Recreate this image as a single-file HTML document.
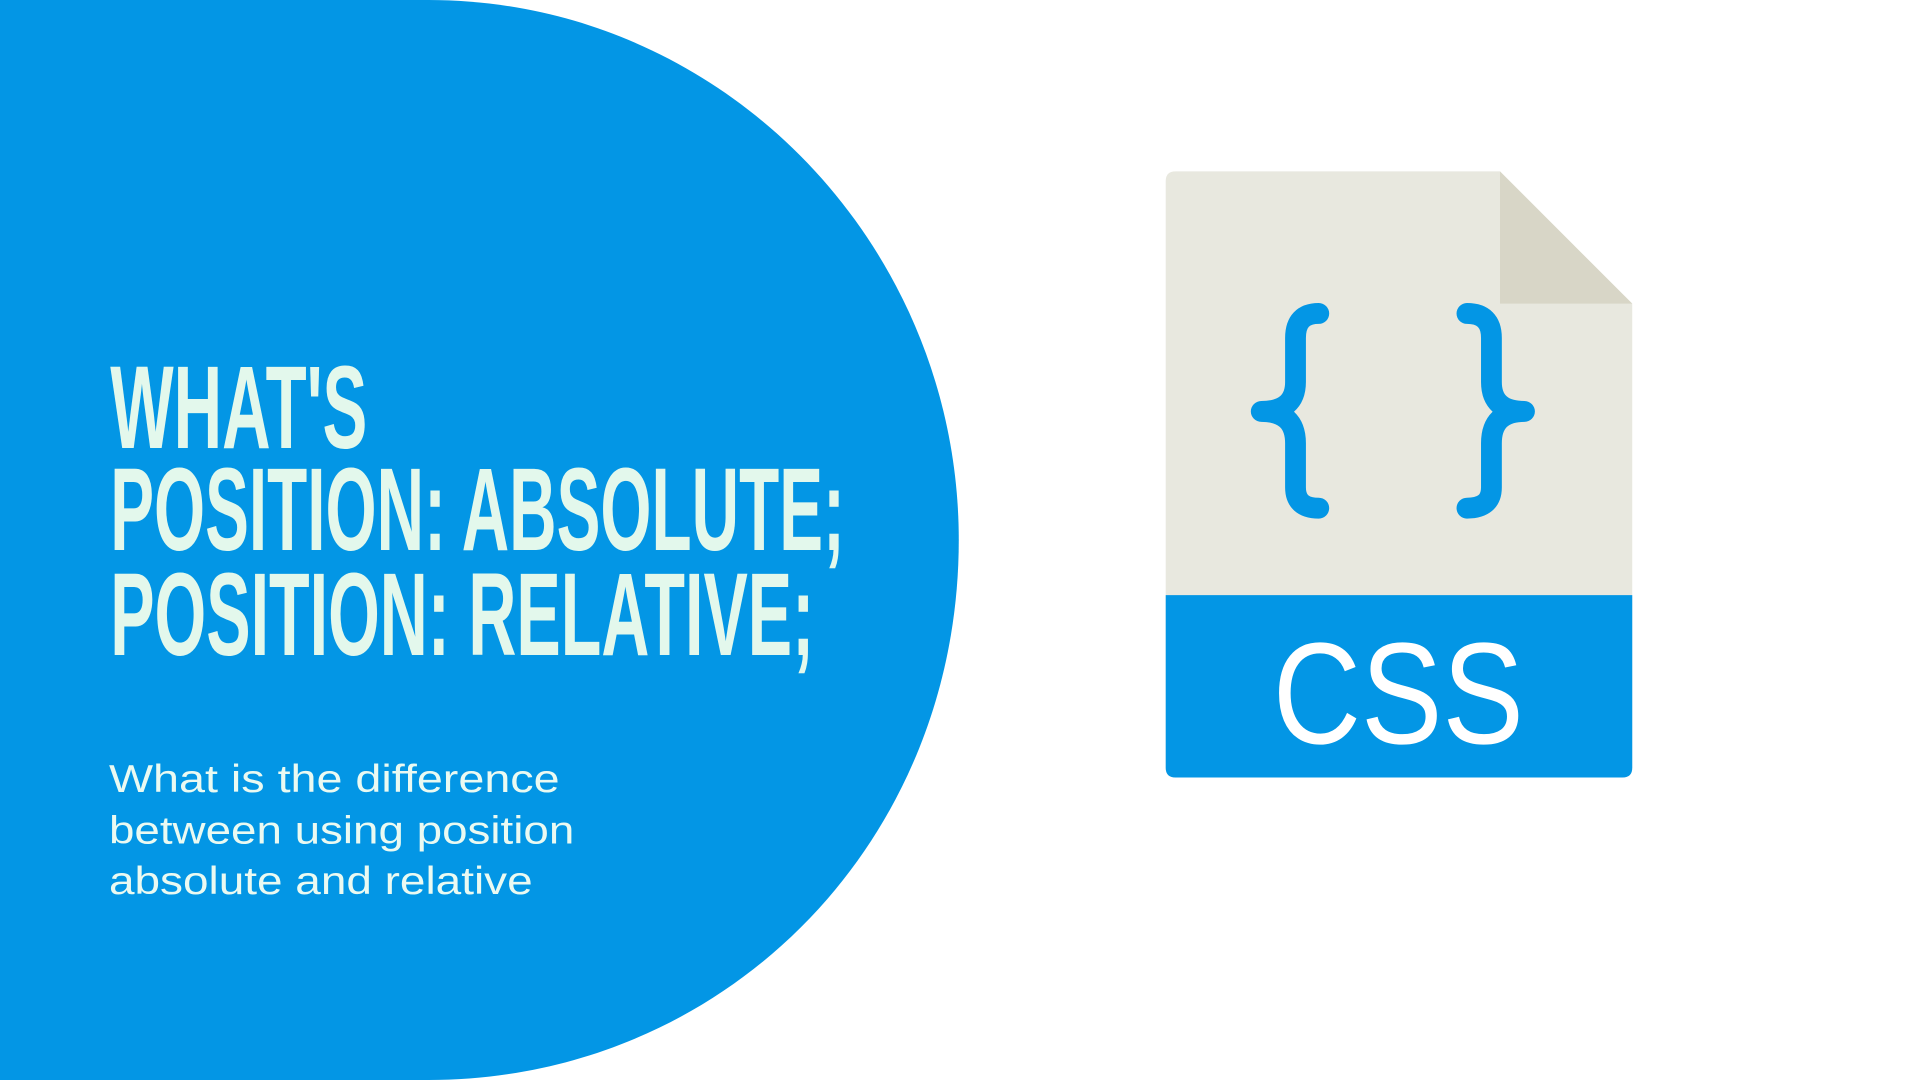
<!DOCTYPE html>
<html><head><meta charset="utf-8"><style>html,body{margin:0;padding:0;background:#fff;}svg{display:block}</style></head>
<body>
<svg width="1920" height="1080" viewBox="0 0 1568 882" preserveAspectRatio="none" xmlns="http://www.w3.org/2000/svg">
<rect width="1568" height="882" fill="#fff"/>
<path d="M0 0 H350 C590 0 783 200 783 441 C783 690 590 882 350 882 H0 Z" fill="#0396e5"/>
<g font-family="'Liberation Sans Narrow','Liberation Sans',sans-serif" font-weight="bold" font-size="96" fill="#e3f8ec">
<text x="90" y="366" textLength="210" lengthAdjust="spacingAndGlyphs">WHAT'S</text>
<text x="90" y="449" textLength="600" lengthAdjust="spacingAndGlyphs">POSITION: ABSOLUTE;</text>
<text x="90" y="535" textLength="575" lengthAdjust="spacingAndGlyphs">POSITION: RELATIVE;</text>
</g>
<g font-family="'Liberation Sans',sans-serif" font-size="32" fill="#eafaf2">
<text x="89" y="647" textLength="368" lengthAdjust="spacingAndGlyphs">What is the difference</text>
<text x="89" y="689" textLength="380" lengthAdjust="spacingAndGlyphs">between using position</text>
<text x="89" y="730" textLength="346" lengthAdjust="spacingAndGlyphs">absolute and relative</text>
</g>
<path d="M960 140 H1225 L1333 248 V627 Q1333 635 1325 635 H960 Q952 635 952 627 V148 Q952 140 960 140 Z" fill="#e8e8df"/>
<path d="M1225 140 L1333 248 H1225 Z" fill="#d8d6c7"/>
<path d="M952 486 H1333 V627 Q1333 635 1325 635 H960 Q952 635 952 627 Z" fill="#0396e5"/>
<text x="1142" y="607" text-anchor="middle" font-family="'Liberation Sans',sans-serif" font-size="118" fill="#fff" textLength="205" lengthAdjust="spacingAndGlyphs">CSS</text>
<g fill="none" stroke="#0396e5" stroke-width="17" stroke-linecap="round" stroke-linejoin="round">
<path d="M1077 256 Q1058 256 1058 276 V312 Q1058 336 1030 336 Q1058 336 1058 362 V398 Q1058 415 1077 415"/>
<path d="M1198 256 Q1218 256 1218 276 V312 Q1218 336 1245 336 Q1218 336 1218 362 V398 Q1218 415 1198 415"/>
</g>
</svg>
</body></html>
